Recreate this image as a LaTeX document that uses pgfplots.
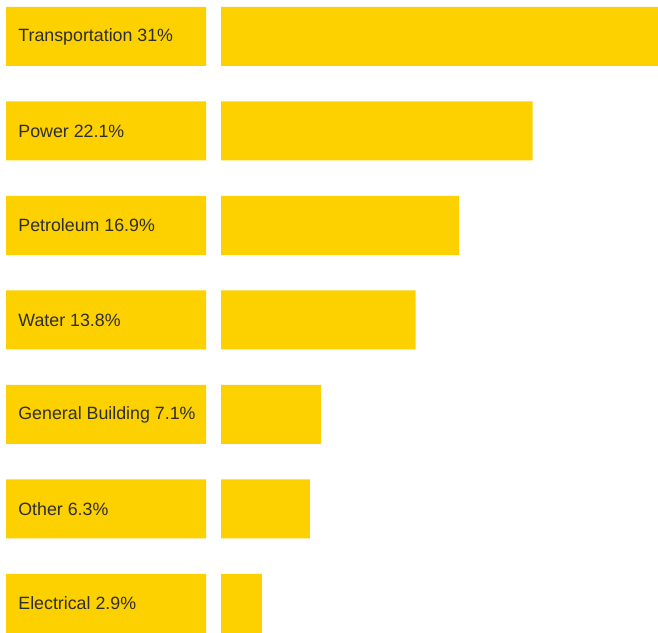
\documentclass[border=0pt]{standalone}
\usepackage{pgfplots}
\pgfplotsset{compat=1.18}
\usepackage{fontspec}
\setmainfont{Liberation Sans}
\definecolor{barY}{HTML}{FDD000}
\definecolor{txt}{HTML}{2E2E2E}
\begin{document}
\begin{tikzpicture}[x=1pt,y=1pt]
\path[use as bounding box] (0,0) rectangle (329,316);
\pgfplotsset{
  common/.style={
    scale only axis, height=316pt, hide axis,
    y dir=reverse, ymin=-0.386, ymax=6.302,
    xbar, bar width=0.624, bar shift=0pt,
    anchor=south west,
  }
}
% label boxes
\begin{axis}[common, at={(3pt,0pt)}, width=100pt, xmin=0, xmax=200]
\addplot[fill=barY, draw=none] coordinates {(200,0) (200,1) (200,2) (200,3) (200,4) (200,5) (200,6)};
\foreach \i/\t in {0/{Transportation 31\%},1/{Power 22.1\%},2/{Petroleum 16.9\%},3/{Water 13.8\%},4/{General Building 7.1\%},5/{Other 6.3\%},6/{Electrical 2.9\%}}{
  \edef\tmp{\noexpand\node[anchor=west, inner sep=0pt, text=txt, font=\noexpand\fontsize{8.9pt}{10.5pt}\noexpand\selectfont] at (axis cs:12,\i) {\unexpanded\expandafter{\t}};}
  \tmp
}
\end{axis}
% bars
\begin{axis}[common, at={(110.5pt,0pt)}, width=218.5pt, xmin=0, xmax=31]
\addplot[fill=barY, draw=none] coordinates {(31,0) (22.1,1) (16.9,2) (13.8,3) (7.1,4) (6.3,5) (2.9,6)};
\end{axis}
\end{tikzpicture}
\end{document}
